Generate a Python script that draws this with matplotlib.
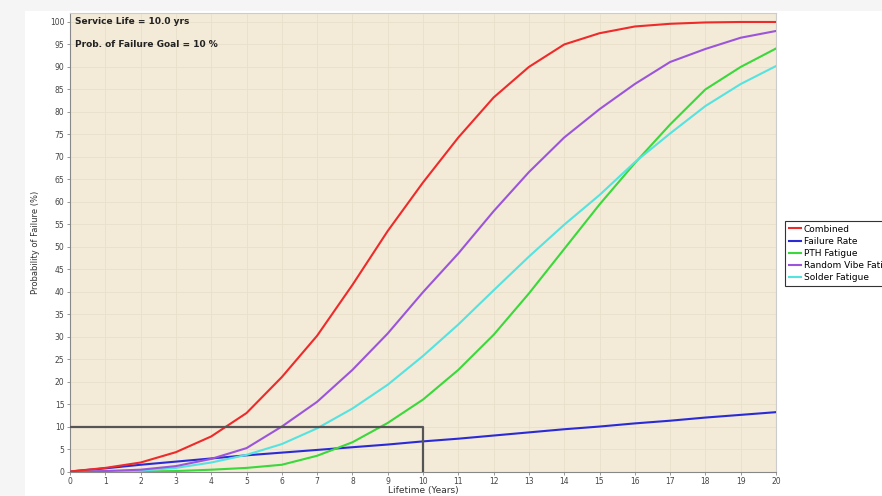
import matplotlib
matplotlib.use("Agg")
import matplotlib.pyplot as plt
from matplotlib.patches import Rectangle

# data (probability of failure in %, per year)
years = list(range(0, 21))
combined = [0, 0.8, 2.0, 4.3, 7.8, 13.0, 21.0, 30.2, 41.5, 53.5, 64.3,
            74.3, 83.2, 90.0, 95.0, 97.5, 99.0, 99.6, 99.9, 100.0, 100.0]
failure_rate = [0, 0.7, 1.5, 2.2, 2.9, 3.6, 4.2, 4.8, 5.4, 6.0, 6.7,
                7.3, 8.0, 8.7, 9.4, 10.0, 10.7, 11.3, 12.0, 12.6, 13.2]
pth_fatigue = [0, 0, 0, 0.1, 0.4, 0.8, 1.5, 3.5, 6.5, 10.8, 16.0,
               22.6, 30.4, 39.6, 49.5, 59.4, 68.6, 77.2, 85.0, 90.0, 94.1]
random_vibe = [0, 0.1, 0.4, 1.2, 2.8, 5.2, 10.0, 15.5, 22.6, 30.7, 39.9,
               48.5, 57.9, 66.6, 74.3, 80.6, 86.2, 91.1, 94.0, 96.5, 98.0]
solder_fatigue = [0, 0.05, 0.2, 0.8, 2.0, 3.7, 6.1, 9.6, 14.0, 19.3, 25.7,
                  32.7, 40.3, 47.8, 54.9, 61.5, 68.8, 75.2, 81.3, 86.2, 90.2]

service_life = 10.0
failure_goal = 10

fig = plt.figure(figsize=(8.82, 4.96), dpi=100, facecolor="#f5f5f5")
# white card on a light grey page
fig.patches.append(Rectangle((25 / 882, 0), 1, 1 - 11 / 496, transform=fig.transFigure,
                             facecolor="white", edgecolor="none", zorder=-10))

ax = fig.add_axes([70 / 882, 24.5 / 496, 706 / 882, 458.5 / 496])
ax.set_facecolor("#f3ead8")

ax.plot(years, failure_rate, color="#2b2bd6", lw=1.5, label="Failure Rate", zorder=3)
ax.plot(years, pth_fatigue, color="#3ad83a", lw=1.5, label="PTH Fatigue", zorder=3)
ax.plot(years, solder_fatigue, color="#55e3e0", lw=1.5, label="Solder Fatigue", zorder=3)
ax.plot(years, random_vibe, color="#9b55db", lw=1.5, label="Random Vibe Fatigue", zorder=3)
ax.plot(years, combined, color="#ee2a2a", lw=1.5, label="Combined", zorder=4)

# service life / goal box
ax.plot([0, service_life, service_life], [failure_goal, failure_goal, 0],
        color="#555555", lw=1.6, zorder=5)

ax.set_xlim(0, 20)
ax.set_ylim(0, 102)
ax.set_xticks(range(0, 21))
ax.set_yticks(range(0, 101, 5))
ax.grid(True, color="#e9e0cb", lw=0.6)
ax.set_axisbelow(True)
ax.tick_params(labelsize=5.5, labelcolor="#444444", length=2, width=0.6,
               color="#888888", pad=2)
for side in ["left", "bottom"]:
    ax.spines[side].set_color("#888888")
for side in ["top", "right"]:
    ax.spines[side].set_color("#cccccc")

ax.set_xlabel("Lifetime (Years)", fontsize=6.5, color="#333333", labelpad=0)
ax.set_ylabel("Probability of Failure (%)", fontsize=6, color="#333333", labelpad=7)

ax.text(0.15, 100, "Service Life = %.1f yrs" % service_life, fontsize=6.5,
        fontweight="bold", va="center", color="#222222")
ax.text(0.15, 95, "Prob. of Failure Goal = %d %%" % failure_goal, fontsize=6.5,
        fontweight="bold", va="center", color="#222222")

handles, labels = ax.get_legend_handles_labels()
order = ["Combined", "Failure Rate", "PTH Fatigue", "Random Vibe Fatigue", "Solder Fatigue"]
hmap = dict(zip(labels, handles))
leg = fig.legend([hmap[k] for k in order], order, loc="upper left",
                 bbox_to_anchor=(785 / 882, 1 - 221 / 496), fontsize=6.5,
                 handlelength=1.4, handletextpad=0.3, labelspacing=0.35,
                 borderpad=0.4, fancybox=False, framealpha=1, borderaxespad=0)
leg.get_frame().set_edgecolor("#333333")
leg.get_frame().set_linewidth(0.8)

fig.savefig("out.png", dpi=100, facecolor=fig.get_facecolor())
